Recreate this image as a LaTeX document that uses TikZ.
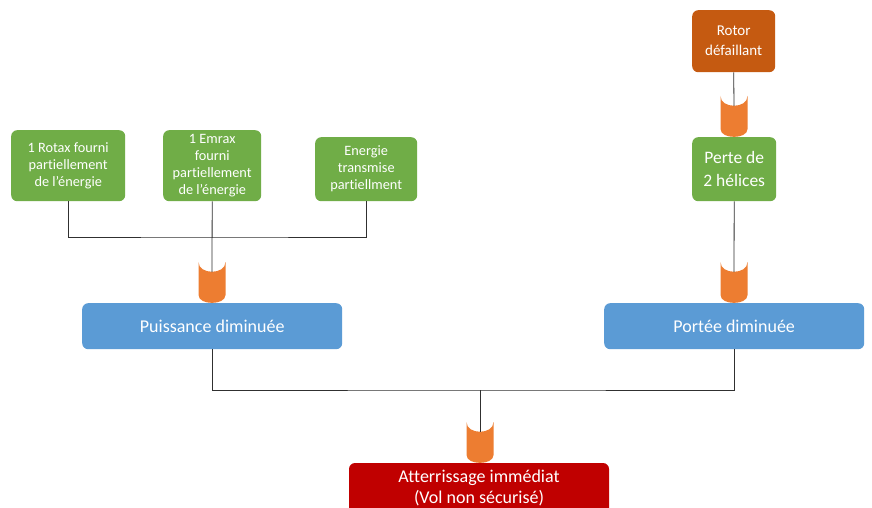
\documentclass[tikz,border=0pt]{standalone}
\usepackage{fontspec}
\setmainfont[Ligatures=NoCommon]{Carlito}
\definecolor{gbox}{HTML}{70AD47}
\definecolor{bbox}{HTML}{5B9BD5}
\definecolor{obox}{HTML}{C55A11}
\definecolor{cupc}{HTML}{ED7D31}
\definecolor{rbox}{HTML}{C00000}
\definecolor{lnc}{HTML}{303030}
\tikzset{
  boxbase/.style={rounded corners=6pt, text=white, align=center, inner sep=0pt, anchor=north west},
  greenbox/.style={boxbase, fill=gbox, font=\fontsize{14.3}{17}\selectfont},
  bluebox/.style={boxbase, fill=bbox, font=\fontsize{18}{21}\selectfont},
  rotorbox/.style={boxbase, fill=obox, font=\fontsize{15}{20}\selectfont},
  pertebox/.style={boxbase, fill=gbox, font=\fontsize{17.5}{23}\selectfont},
  redbox/.style={boxbase, anchor=center, font=\fontsize{18}{21}\selectfont},
  conn/.style={draw=lnc, line width=0.8pt},
  cupstyle/.style={fill=cupc, draw=none}
}
% cup: #1 name of entry coordinate, #2 cx, #3 bottom y (box top)
\newcommand\drawcupshape[3]{%
  \fill[cupstyle] ({#2-13.5},{#3-41}) .. controls ({#2-13.5},{#3-28}) and ({#2+13.5},{#3-28}) .. ({#2+13.5},{#3-41})
    -- ({#2+13.5},{#3-8}) .. controls ({#2+13.5},{#3+2.5}) and ({#2-13.5},{#3+2.5}) .. ({#2-13.5},{#3-8}) -- cycle;
  \coordinate (#1) at ({#2},{#3-31});%
}
\begin{document}
\begin{tikzpicture}[x=1pt,y=-1pt]
\useasboundingbox (0,0) rectangle (872,508);
\clip (0,0) rectangle (872,508);
\fill[white] (0,0) rectangle (872,508);

% boxes
\node[greenbox, minimum width=114pt, minimum height=71pt] (g1) at (11,130) {1 Rotax fourni\\partiellement\\de l’énergie};
\node[greenbox, minimum width=98pt, minimum height=71pt] (g2) at (163,130) {1 Emrax\\fourni\\partiellement\\de l’énergie};
\node[greenbox, minimum width=102pt, minimum height=64pt] (g3) at (315,137) {Energie\\transmise\\partiellment};
\node[rotorbox, minimum width=83pt, minimum height=62pt] (rotor) at (692,10) {Rotor\\défaillant};
\node[pertebox, minimum width=84pt, minimum height=64pt] (perte) at (692,137) {Perte de\\2 hélices};
\node[bluebox, minimum width=260pt, minimum height=46pt] (puis) at (82,303) {Puissance diminuée};
\node[bluebox, minimum width=260pt, minimum height=46pt] (port) at (604,303) {Portée diminuée};
\fill[rbox, rounded corners=6pt] (349,463) rectangle (609,520);
\node[redbox, minimum width=260pt, minimum height=44pt] (red) at (479,488) {Atterrissage immédiat\\(Vol non sécurisé)};

% junctions
\coordinate (jA) at (212,237);
\coordinate (jB) at (480,390);

% cups
\drawcupshape{cR}{734}{137}
\drawcupshape{cP}{734}{303}
\drawcupshape{cA}{212}{303}
\drawcupshape{cD}{480}{463}

% connectors
\draw[conn] (g1.south) |- (jA) -| (g3.south);
\draw[conn] (g2.south) -- (cA);
\draw[conn] (rotor.south) -- (cR);
\draw[conn] (perte.south) -- (cP);
\draw[conn] (puis.south) |- (jB) -| (port.south);
\draw[conn] (jB) -- (cD);
\end{tikzpicture}
\end{document}
